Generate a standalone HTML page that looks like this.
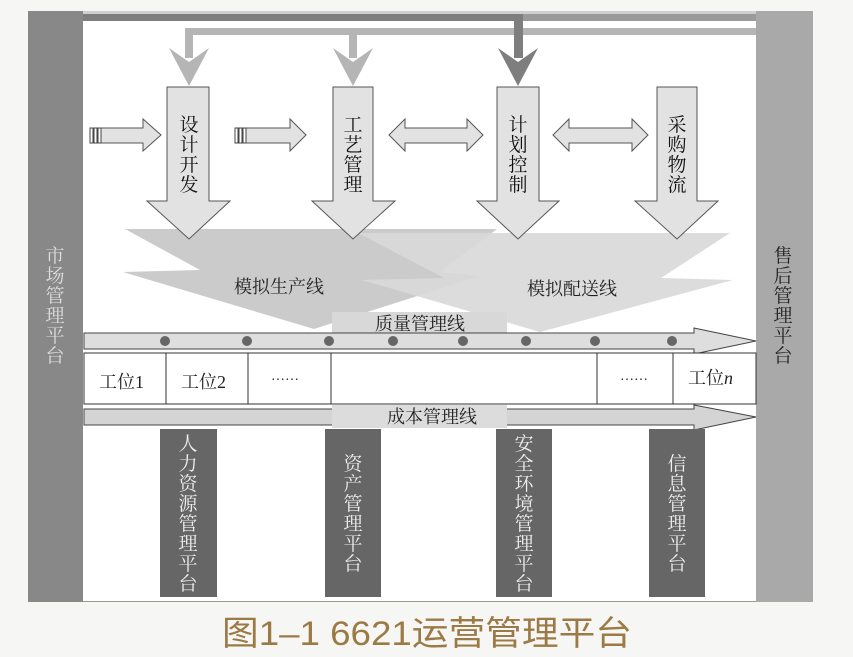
<!DOCTYPE html>
<html><head><meta charset="utf-8"><style>
html,body{margin:0;padding:0;background:#f6f6f4;}
svg{display:block;}
text{font-family:"Liberation Serif","Noto Serif CJK SC","Noto Sans CJK SC",serif;}
</style></head><body>
<svg width="853" height="657" viewBox="0 0 853 657" xmlns="http://www.w3.org/2000/svg">
<rect width="853" height="657" fill="#f6f6f4"/>
<rect x="28" y="11" width="785" height="591" fill="#9a9a9a"/>
<rect x="83" y="21" width="673" height="580" fill="#ffffff"/>
<rect x="28" y="11" width="55" height="591" fill="#888"/>
<rect x="756" y="11" width="57" height="591" fill="#a9a9a9"/>
<rect x="83" y="11" width="673" height="3" fill="#cfcfcf"/>
<rect x="83" y="14" width="440" height="7" fill="#7e7e7e"/>
<rect x="185" y="28" width="571" height="7" fill="#b5b5b5"/>
<rect x="185" y="28" width="8" height="30" fill="#b5b5b5"/>
<rect x="349" y="28" width="8" height="30" fill="#b5b5b5"/>
<rect x="514" y="14" width="9" height="44" fill="#7e7e7e"/>
<polygon points="169,48 189,62 209,48 189,86" fill="#b5b5b5"/>
<polygon points="333,48 353,62 373,48 353,86" fill="#b5b5b5"/>
<polygon points="498,48 518,62 538,48 518,86" fill="#7e7e7e"/>
<polygon points="125,229 497,229 440,272 480,276 314,329 123,272 200,270" fill="#cbcbcb"/>
<polygon points="358,233 730,233 661,278 733,280 540,332 362,280 444,278" fill="#d9d9d9" opacity="0.92"/>
<g fill="#e2e2e2" stroke="#555" stroke-width="1">
<polygon points="167,87 209,87 209,201 230,201 189,239 147,201 167,201"/>
<polygon points="333,87 373,87 373,201 395,201 353,239 312,201 333,201"/>
<polygon points="497,87 539,87 539,201 559,201 518,239 477,201 497,201"/>
<polygon points="657,87 697,87 697,201 718,201 677,239 635,201 657,201"/>
<polygon points="101,128 143,128 143,119 161,135 143,151 143,143 101,143"/>
<polygon points="246,128 290,128 290,119 306,135 290,151 290,143 246,143"/>
<polygon points="389,135 405,119 405,128 467,128 467,119 483,135 467,151 467,143 405,143 405,151"/>
<polygon points="553,135 569,119 569,128 632,128 632,119 648,135 632,151 632,143 569,143 569,151"/>
</g>
<g stroke="#444" stroke-width="1" fill="#fff">
<rect x="90" y="128" width="3" height="15"/><rect x="94" y="128" width="3" height="15"/><rect x="98" y="128" width="3" height="15"/>
<rect x="235" y="128" width="3" height="15"/><rect x="239" y="128" width="3" height="15"/><rect x="243" y="128" width="3" height="15"/>
</g>
<g font-size="19" fill="#111" text-anchor="middle">
<text x="189" y="131">设</text><text x="189" y="151">计</text><text x="189" y="171">开</text><text x="189" y="191">发</text>
<text x="353" y="131">工</text><text x="353" y="151">艺</text><text x="353" y="171">管</text><text x="353" y="191">理</text>
<text x="518" y="131">计</text><text x="518" y="151">划</text><text x="518" y="171">控</text><text x="518" y="191">制</text>
<text x="677" y="131">采</text><text x="677" y="151">购</text><text x="677" y="171">物</text><text x="677" y="191">流</text>
</g>
<g font-size="18" fill="#222" text-anchor="middle">
<text x="279" y="293">模拟生产线</text>
<text x="572" y="295">模拟配送线</text>
</g>
<rect x="332" y="312" width="175" height="22" fill="#d8d8d8"/>
<text x="420" y="330" font-size="18" text-anchor="middle" fill="#222">质量管理线</text>
<polygon points="84,333 694,333 694,328 756,341 694,354 694,349 84,349" fill="#dedede" stroke="#444" stroke-width="1"/>
<g fill="#666">
<circle cx="165" cy="341" r="5"/><circle cx="247" cy="341" r="5"/><circle cx="329" cy="341" r="5"/><circle cx="393" cy="341" r="5"/>
<circle cx="463" cy="341" r="5"/><circle cx="526" cy="341" r="5"/><circle cx="595" cy="341" r="5"/><circle cx="672" cy="341" r="5"/>
</g>
<rect x="84" y="353" width="672" height="51" fill="#fff" stroke="#333" stroke-width="1"/>
<g stroke="#333" stroke-width="1">
<line x1="166" y1="353" x2="166" y2="404"/><line x1="248" y1="353" x2="248" y2="404"/>
<line x1="331" y1="353" x2="331" y2="404"/><line x1="597" y1="353" x2="597" y2="404"/>
<line x1="673" y1="353" x2="673" y2="404"/>
</g>
<g font-size="18" fill="#222">
<text x="99" y="388">工位1</text><text x="181" y="388">工位2</text>
<text x="271" y="380" font-size="14">……</text><text x="620" y="380" font-size="14">……</text>
<text x="688" y="384">工位<tspan font-style="italic">n</tspan></text>
</g>
<polygon points="84,409 694,409 694,405 756,417 694,430 694,425 84,425" fill="#d4d4d4" stroke="#444" stroke-width="1"/>
<rect x="332" y="405" width="175" height="23" fill="#dcdcdc"/>
<text x="432" y="423" font-size="18" text-anchor="middle" fill="#222">成本管理线</text>
<g fill="#666">
<rect x="160" y="429" width="57" height="168"/>
<rect x="325" y="429" width="56" height="168"/>
<rect x="496" y="429" width="56" height="168"/>
<rect x="649" y="429" width="56" height="168"/>
</g>
<g font-size="19" fill="#eee" text-anchor="middle">
<text x="188" y="450">人</text><text x="188" y="470">力</text><text x="188" y="490">资</text><text x="188" y="510">源</text><text x="188" y="530">管</text><text x="188" y="550">理</text><text x="188" y="570">平</text><text x="188" y="590">台</text>
<text x="353" y="470">资</text><text x="353" y="490">产</text><text x="353" y="510">管</text><text x="353" y="530">理</text><text x="353" y="550">平</text><text x="353" y="570">台</text>
<text x="524" y="450">安</text><text x="524" y="470">全</text><text x="524" y="490">环</text><text x="524" y="510">境</text><text x="524" y="530">管</text><text x="524" y="550">理</text><text x="524" y="570">平</text><text x="524" y="590">台</text>
<text x="677" y="470">信</text><text x="677" y="490">息</text><text x="677" y="510">管</text><text x="677" y="530">理</text><text x="677" y="550">平</text><text x="677" y="570">台</text>
</g>
<g font-size="19" text-anchor="middle">
<g fill="#ddd">
<text x="55" y="262">市</text><text x="55" y="282">场</text><text x="55" y="302">管</text><text x="55" y="322">理</text><text x="55" y="342">平</text><text x="55" y="362">台</text>
</g>
<g fill="#222">
<text x="783" y="262">售</text><text x="783" y="282">后</text><text x="783" y="302">管</text><text x="783" y="322">理</text><text x="783" y="342">平</text><text x="783" y="362">台</text>
</g>
</g>
<text x="222" y="645" font-size="34" textLength="410" lengthAdjust="spacingAndGlyphs" fill="#9c7a45" style="font-family:'Liberation Sans','Noto Sans CJK SC',sans-serif">图1–1 6621运营管理平台</text>
</svg>
</body></html>
